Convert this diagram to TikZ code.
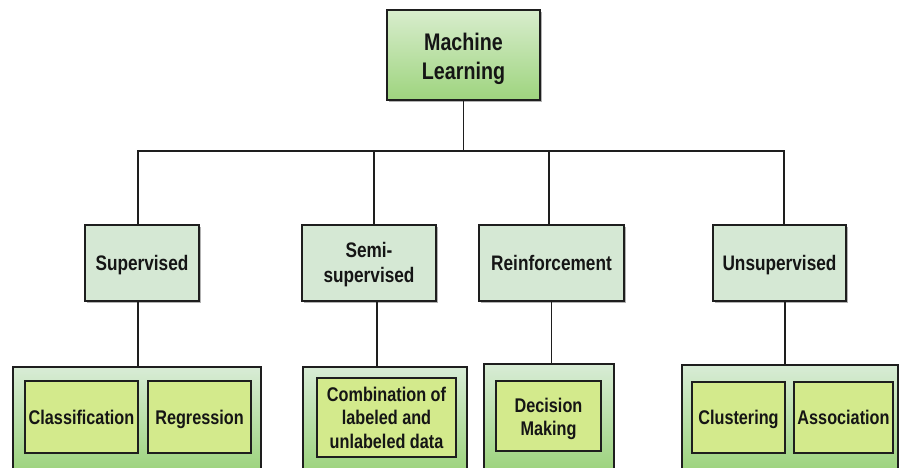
\documentclass[tikz,border=0pt]{standalone}
\usepackage{fontspec}
\setmainfont{Liberation Sans}[FakeStretch=0.82]
\usetikzlibrary{shadows}
\definecolor{topA}{HTML}{D8EDCD}
\definecolor{topB}{HTML}{9ED47E}
\definecolor{midF}{HTML}{D5E8D4}
\definecolor{grpA}{HTML}{D8ECD6}
\definecolor{grpB}{HTML}{9CD37C}
\definecolor{inF}{HTML}{D3EA8C}
\definecolor{edgeC}{HTML}{1E1E1E}
\definecolor{txtC}{HTML}{151515}
\begin{document}
\begin{tikzpicture}[x=1pt,y=-1pt,
  box/.style={draw=edgeC, line width=1.6pt, inner sep=0pt, align=center, text=txtC},
  shd/.style={drop shadow={shadow xshift=1.5pt, shadow yshift=-1.5pt, opacity=0.3, fill=black}},
  midline/.style={text height=15pt, text depth=0pt},
  inline/.style={text height=14.3pt, text depth=0pt},
  topbox/.style={box, shd, top color=topA, bottom color=topB, font=\fontsize{24}{29}\selectfont\bfseries},
  midbox/.style={box, shd, fill=midF, minimum height=76pt, font=\fontsize{21}{25}\selectfont\bfseries},
  grpbox/.style={box, top color=grpA, bottom color=grpB},
  inbox/.style={box, fill=inF, font=\fontsize{19.8}{23.5}\selectfont\bfseries},
  conn/.style={draw=edgeC, line width=1.5pt}
]
\useasboundingbox (0,0) rectangle (900,467);
\clip (0,0) rectangle (900,467);
\fill[white] (0,0) rectangle (900,467);

% top
\node[topbox, minimum width=153pt, minimum height=90pt] (ml) at (463.5,55) {\rule{0pt}{25pt}Machine\\Learning};

% level 2
\node[midbox, midline, minimum width=114pt] (sup) at (142,263) {Supervised};
\node[midbox, minimum width=134pt] (semi) at (369,263) {\rule{0pt}{19pt}Semi-\\supervised};
\node[midbox, midline, minimum width=145pt] (rein) at (551.5,263) {Reinforcement};
\node[midbox, midline, minimum width=133pt] (unsup) at (779.5,263) {Unsupervised};

% bus
\draw[conn] (ml.south) -- ++(0,50) coordinate (j);
\draw[conn] ([xshift=-4pt]sup.north) -- ([xshift=-4pt]sup.north |- j) -- ([xshift=4.5pt]unsup.north |- j) -- ([xshift=4.5pt]unsup.north);
\draw[conn] ([xshift=5pt]semi.north) -- ([xshift=5pt]semi.north |- j);
\draw[conn] ([xshift=-2.5pt]rein.north) -- ([xshift=-2.5pt]rein.north |- j);

% groups
\node[grpbox, minimum width=248pt, minimum height=105pt] (gsup) at (137,419.5) {};
\node[grpbox, minimum width=164pt, minimum height=105pt] (gsemi) at (385,419.5) {};
\node[grpbox, minimum width=130pt, minimum height=108pt] (grein) at (549,418) {};
\node[grpbox, minimum width=216pt, minimum height=107pt] (gunsup) at (790,418.5) {};

\draw[conn] ([xshift=-4pt]sup.south) -- ([xshift=-4pt]sup.south |- gsup.north);
\draw[conn] ([xshift=8pt]semi.south) -- ([xshift=8pt]semi.south |- gsemi.north);
\draw[conn] (rein.south) -- (rein.south |- grein.north);
\draw[conn] ([xshift=5.5pt]unsup.south) -- ([xshift=5.5pt]unsup.south |- gunsup.north);

% inner
\node[inbox, inline, minimum width=113pt, minimum height=72pt] (cls) at (81.5,417) {Classification};
\node[inbox, inline, minimum width=103pt, minimum height=72pt] (reg) at (199.5,417) {Regression};
\node[inbox, minimum width=139pt, minimum height=79pt] (comb) at (386.5,417.5) {Combination of\\labeled and\\unlabeled data};
\node[inbox, minimum width=105pt, minimum height=70pt] (dec) at (548.5,416) {\rule{0pt}{20pt}Decision\\Making};
\node[inbox, inline, minimum width=93pt, minimum height=71pt] (clu) at (738.5,417.5) {Clustering};
\node[inbox, inline, minimum width=99pt, minimum height=71pt] (asc) at (843.5,417.5) {Association};
\end{tikzpicture}
\end{document}
